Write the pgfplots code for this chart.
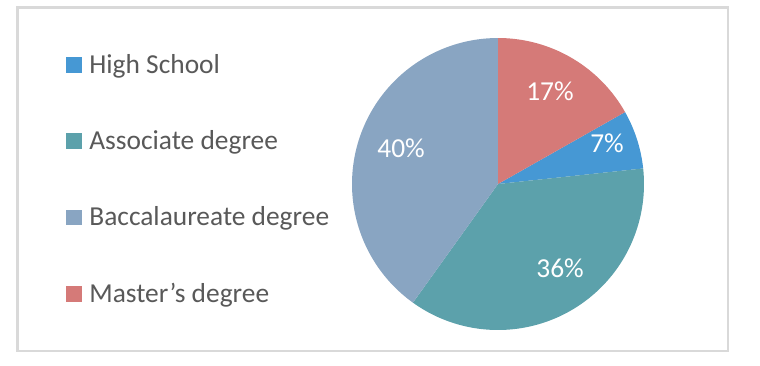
\documentclass[border=0pt]{standalone}
\usepackage{pgfplots}
\pgfplotsset{compat=1.18}
\usepackage{fontspec}
\setmainfont{Carlito}
\definecolor{cRed}{HTML}{D57A78}
\definecolor{cBlue}{HTML}{4698D4}
\definecolor{cTeal}{HTML}{5CA1AB}
\definecolor{cSlate}{HTML}{89A5C2}
\definecolor{txt}{HTML}{595959}
\definecolor{frame}{HTML}{D9D9D9}
% shares in percent, clockwise from the top: Master's, High School, Associate, Baccalaureate
\def\vMaster{16.8}
\def\vHigh{6.5}
\def\vAssoc{36.6}
\def\vBacc{40.1}
\pgfmathsetmacro\aA{90}
\pgfmathsetmacro\aB{\aA-3.6*\vMaster}
\pgfmathsetmacro\aC{\aB-3.6*\vHigh}
\pgfmathsetmacro\aD{\aC-3.6*\vAssoc}
\pgfmathsetmacro\aE{\aD-3.6*\vBacc}
\begin{document}
\fontsize{13.7}{16}\selectfont
\begin{tikzpicture}
\path[use as bounding box] (0,0) rectangle (380pt,182.5pt);
\fill[white] (0,0) rectangle (380pt,182.5pt);
\draw[frame, line width=1.4pt] (8.75pt,7pt) rectangle (364pt,178.75pt);
\begin{axis}[
  at={(249pt,90.5pt)}, anchor=center,
  scale only axis, width=146pt, height=146pt,
  xmin=-1, xmax=1, ymin=-1, ymax=1,
  hide axis, clip=false,
  legend style={at={(-0.9795,0.9480)}, anchor=north west, draw=none, fill=none,
    font=\fontsize{13.7}{16}\selectfont, text=txt, inner sep=0pt,
    nodes={inner sep=0pt, text height=10pt, text depth=3pt},
    /tikz/every odd column/.append style={column sep=3.6pt},
    row sep=25.1pt},
  legend cell align=left,
  legend image code/.code={\fill[#1] (0pt,-3.2pt) rectangle (7.9pt,4.7pt);},
]
\addplot[fill=cBlue, draw=none, domain=\aC:\aB, samples=40] ({cos(x)},{sin(x)}) -- (axis cs:0,0) -- cycle;
\addlegendentry{High School}
\addplot[fill=cTeal, draw=none, domain=\aD:\aC, samples=120] ({cos(x)},{sin(x)}) -- (axis cs:0,0) -- cycle;
\addlegendentry{Associate degree}
\addplot[fill=cSlate, draw=none, domain=\aE:\aD, samples=120] ({cos(x)},{sin(x)}) -- (axis cs:0,0) -- cycle;
\addlegendentry{Baccalaureate degree}
\addplot[fill=cRed, draw=none, domain=\aB:\aA, samples=60] ({cos(x)},{sin(x)}) -- (axis cs:0,0) -- cycle;
\addlegendentry{Master’s degree}
\node[text=white, font=\fontsize{13.7}{16}\selectfont] at (axis cs:0.356,0.634) {17\%};
\node[text=white, font=\fontsize{13.7}{16}\selectfont] at (axis cs:0.747,0.281) {7\%};
\node[text=white, font=\fontsize{13.7}{16}\selectfont] at (axis cs:0.425,-0.575) {36\%};
\node[text=white, font=\fontsize{13.7}{16}\selectfont] at (axis cs:-0.664,0.247) {40\%};
\end{axis}
\end{tikzpicture}
\end{document}
